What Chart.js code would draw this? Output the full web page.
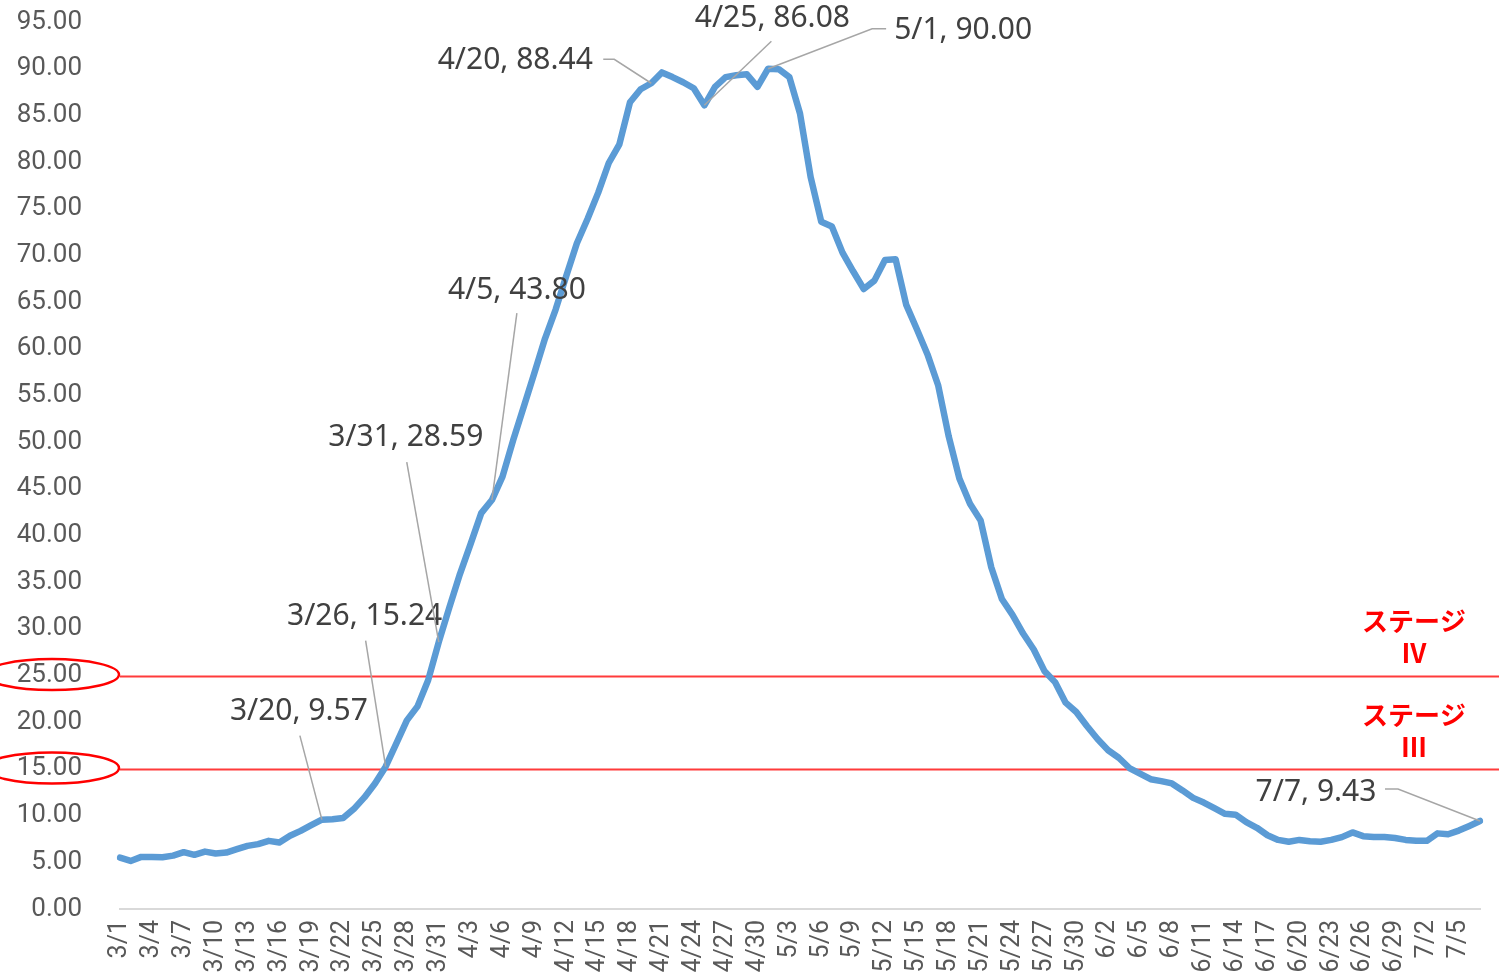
<!DOCTYPE html>
<html lang="ja">
<head>
<meta charset="UTF-8">
<title>Chart</title>
<script src="https://cdn.jsdelivr.net/npm/chart.js@4.4.1/dist/chart.umd.min.js"></script>
<style>
    html, body { margin: 0; padding: 0; background: #fff; }
    #wrap { position: relative; width: 1499px; height: 976px; }
</style>
</head>
<body>
<div id="wrap"><canvas id="chart"></canvas></div>
<script>
// Category labels: every day from 3/1 to 7/7
const monthDays = [[3, 31], [4, 30], [5, 31], [6, 30], [7, 7]];
const dates = [];
monthDays.forEach(([m, n]) => {
    for (let d = 1; d <= n; d++) dates.push(m + '/' + d);
});

// Daily values
const values = [
    5.50, 5.15, 5.58, 5.58, 5.55, 5.72, 6.09, 5.80, 6.15, 5.94,
    6.04, 6.41, 6.76, 6.95, 7.30, 7.12, 7.84, 8.37, 8.98, 9.57,
    9.62, 9.75, 10.70, 11.95, 13.45, 15.24, 17.70, 20.20, 21.70, 24.50,
    28.59,
    32.30, 35.90, 39.10, 42.40, 43.80, 46.30, 50.20, 53.80, 57.40, 61.10,
    64.20, 67.80, 71.30, 73.90, 76.70, 79.90, 81.90, 86.40, 87.80, 88.44,
    89.60, 89.10, 88.55, 87.90, 86.08, 88.06, 89.10, 89.30, 89.40, 88.06,
    90.00, 89.95, 89.10, 85.20, 78.40, 73.60, 73.10, 70.30, 68.30, 66.40,
    67.30, 69.50, 69.60, 64.70, 62.10, 59.40, 56.10, 50.60, 46.10, 43.40,
    41.60, 36.60, 33.20, 31.50, 29.50, 27.80, 25.50, 24.30, 22.10, 21.10,
    19.60,
    18.20, 17.00, 16.20, 15.10, 14.50, 13.90, 13.70, 13.45, 12.70, 11.90,
    11.40, 10.80, 10.20, 10.10, 9.30, 8.70, 7.90, 7.40, 7.20, 7.40,
    7.25, 7.20, 7.40, 7.70, 8.20, 7.80, 7.70, 7.70, 7.60, 7.40,
    7.30, 7.30, 8.10, 8.00, 8.40, 8.90, 9.43
];

// y axis range
const yMin = 0;
const yMax = 95;
const yStep = 5;

// Stage threshold lines and their captions
const stageLevels = [25, 15];
const stageNames = ['ステージ', 'ステージ'];
const stageNums = ['Ⅳ', 'Ⅲ'];

// Dates that get a data callout
const noteDates = ['3/20', '3/26', '3/31', '4/5', '4/20', '4/25', '5/1', '7/7'];

// Callout placement: text offset from the point, leader bends relative to the text
const noteLayout = [
    { dx: -23, dy: -108, lead: [[1, 24]] },
    { dx: -21, dy: -150, lead: [[1, 24]] },
    { dx: -33, dy: -205, lead: [[1, 25]] },
    { dx: 25, dy: -210, lead: [[0, 23]] },
    { dx: -136, dy: -23, lead: [[88, -1], [99, -1]] },
    { dx: 68, dy: -87, lead: [[-1, 23]] },
    { dx: 195, dy: -38, lead: [[-77, -2], [-91, -2]] },
    { dx: -164, dy: -29, lead: [[69, -3], [82, -3]] }
];

const overlayPlugin = {
    id: 'overlay',
    beforeDatasetsDraw(chart) {
        const { ctx, chartArea, scales: { y } } = chart;
        ctx.save();
        ctx.strokeStyle = '#ff3b3b';
        ctx.lineWidth = 2;
        stageLevels.forEach(v => {
            const py = Math.round(y.getPixelForValue(v)) + 0.5;
            ctx.beginPath();
            ctx.moveTo(chartArea.left, py);
            ctx.lineTo(chart.width, py);
            ctx.stroke();
        });
        ctx.restore();
    },
    afterDatasetsDraw(chart) {
        const { ctx, chartArea, scales: { x, y } } = chart;
        ctx.save();

        // red rings round the threshold tick labels
        ctx.strokeStyle = '#ff0000';
        ctx.lineWidth = 2.5;
        stageLevels.forEach(v => {
            const py = y.getPixelForValue(v);
            ctx.beginPath();
            ctx.ellipse(chartArea.left - 68, py - 1, 67, 15.5, 0, 0, Math.PI * 2);
            ctx.stroke();
        });

        // stage captions
        ctx.fillStyle = '#ff0000';
        ctx.font = 'bold 26px "Noto Sans CJK JP"';
        ctx.textAlign = 'center';
        ctx.textBaseline = 'middle';
        stageLevels.forEach((v, i) => {
            const py = y.getPixelForValue(v);
            ctx.fillText(stageNames[i], chartArea.right - 66, py - 54);
            ctx.fillText(stageNums[i], chartArea.right - 66, py - 22);
        });

        // callouts with leader lines
        ctx.font = '30px "Noto Sans"';
        noteDates.forEach((d, i) => {
            const idx = dates.indexOf(d);
            const px = x.getPixelForValue(idx);
            const py = y.getPixelForValue(values[idx]);
            const lay = noteLayout[i];
            const tx = px + lay.dx;
            const ty = py + lay.dy;

            ctx.strokeStyle = '#a6a6a6';
            ctx.lineWidth = 1.5;
            ctx.beginPath();
            lay.lead.forEach(([lx, ly], k) => {
                if (k === 0) ctx.moveTo(tx + lx, ty + ly);
                else ctx.lineTo(tx + lx, ty + ly);
            });
            ctx.lineTo(px, py);
            ctx.stroke();

            ctx.fillStyle = '#404040';
            ctx.fillText(d + ', ' + values[idx].toFixed(2), tx, ty);
        });
        ctx.restore();
    }
};

function createChart() {
    const ctx = document.getElementById('chart').getContext('2d');
    new Chart(ctx, {
        type: 'line',
        data: {
            labels: dates,
            datasets: [{
                data: values,
                borderColor: '#5b9bd5',
                borderWidth: 6.5,
                borderJoinStyle: 'round',
                borderCapStyle: 'round',
                pointRadius: 0,
                tension: 0,
                fill: false
            }]
        },
        options: {
            responsive: true,
            maintainAspectRatio: false,
            animation: false,
            layout: { padding: { top: 22, right: 19, left: 0, bottom: 0 } },
            plugins: {
                legend: { display: false },
                tooltip: { enabled: false }
            },
            scales: {
                x: {
                    grid: { display: false, drawTicks: false },
                    border: { display: true, color: '#d9d9d9', width: 2 },
                    ticks: {
                        autoSkip: false,
                        maxRotation: 90,
                        minRotation: 90,
                        padding: 11,
                        color: '#595959',
                        font: { family: 'Roboto', size: 25 },
                        callback: (v, i) => (i % 3 === 0 ? dates[i] : '')
                    },
                    afterFit: scale => {
                        scale.height = 67;
                        scale.paddingLeft = 0;
                        scale.paddingRight = 0;
                    }
                },
                y: {
                    min: yMin,
                    max: yMax,
                    grid: { display: false, drawTicks: false },
                    border: { display: false },
                    ticks: {
                        stepSize: yStep,
                        maxTicksLimit: 30,
                        autoSkip: false,
                        padding: 38,
                        color: '#595959',
                        font: { family: 'Roboto', size: 26 },
                        callback: v => Number(v).toFixed(2)
                    },
                    afterFit: scale => {
                        scale.width = 120;
                        scale.paddingTop = 0;
                        scale.paddingBottom = 0;
                    }
                }
            }
        },
        plugins: [overlayPlugin]
    });
}

window.onload = createChart;
</script>
</body>
</html>
